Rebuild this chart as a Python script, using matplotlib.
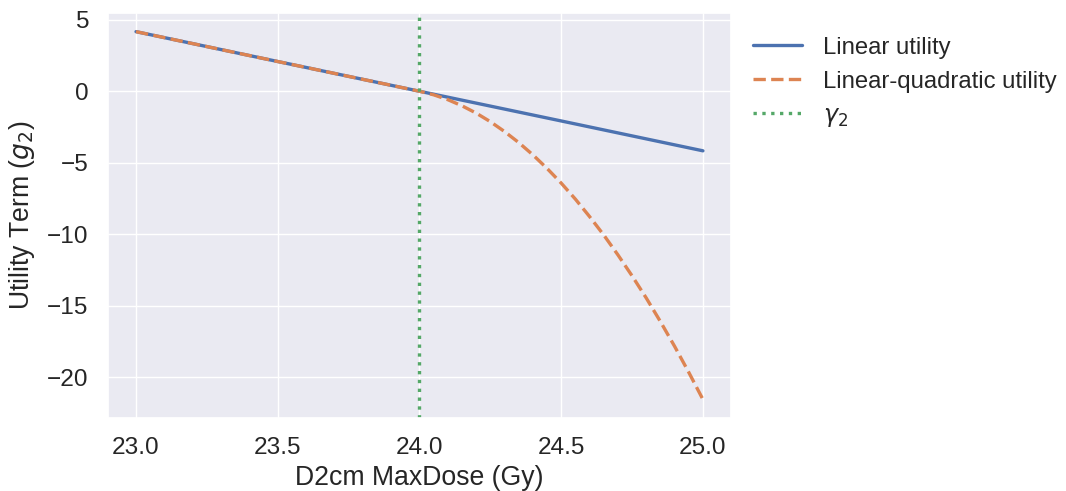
import matplotlib
matplotlib.use("Agg")
import matplotlib.pyplot as plt
import seaborn as sns

# dose values (Gy) and utility terms
dose = [23.0, 23.5, 24.0, 24.5, 25.0]
linear_util = [4.17, 2.08, 0.0, -2.08, -4.17]

lq_dose = [23.0, 23.5, 24.0, 24.05, 24.1, 24.15, 24.2, 24.25, 24.3, 24.35, 24.4,
           24.45, 24.5, 24.55, 24.6, 24.65, 24.7, 24.75, 24.8, 24.85, 24.9, 24.95, 25.0]
lq_util = [4.17, 2.08, 0.0, -0.25, -0.59, -1.02, -1.53, -2.13, -2.82, -3.59, -4.45,
           -5.40, -6.43, -7.55, -8.77, -10.06, -11.45, -12.92, -14.47, -16.12, -17.85,
           -19.67, -21.57]

gamma2 = 24.0

sns.set_theme(style="darkgrid", font_scale=1.6)
plt.rcParams["font.family"] = ["Liberation Sans", "DejaVu Sans"]
plt.rcParams["mathtext.fontset"] = "dejavusans"
plt.rcParams["xtick.major.size"] = 0
plt.rcParams["ytick.major.size"] = 0
plt.rcParams["xtick.major.pad"] = 14
plt.rcParams["ytick.major.pad"] = 14

fig = plt.figure(figsize=(10.66, 4.91), dpi=100)
ax = fig.add_axes([0.101, 0.149, 0.585, 0.824])

ax.plot(dose, linear_util, color="C0", lw=2.4, label="Linear utility")
ax.plot(lq_dose, lq_util, color="C1", lw=2.4, ls="--", label="Linear-quadratic utility")
ax.axvline(gamma2, color="C2", lw=2.4, ls=":", label=r"$\gamma_2$")

ax.set_xlabel("D2cm MaxDose (Gy)", labelpad=4)
ax.set_ylabel(r"Utility Term ($g_2$)", labelpad=7)
ax.set_xticks([23.0, 23.5, 24.0, 24.5, 25.0])
ax.set_yticks([5, 0, -5, -10, -15, -20])

ax.legend(loc="upper left", bbox_to_anchor=(1.0, 0.995), frameon=False,
          fontsize=17.2, handlelength=2.05, handletextpad=0.9)

fig.savefig("out.png", dpi=100)
